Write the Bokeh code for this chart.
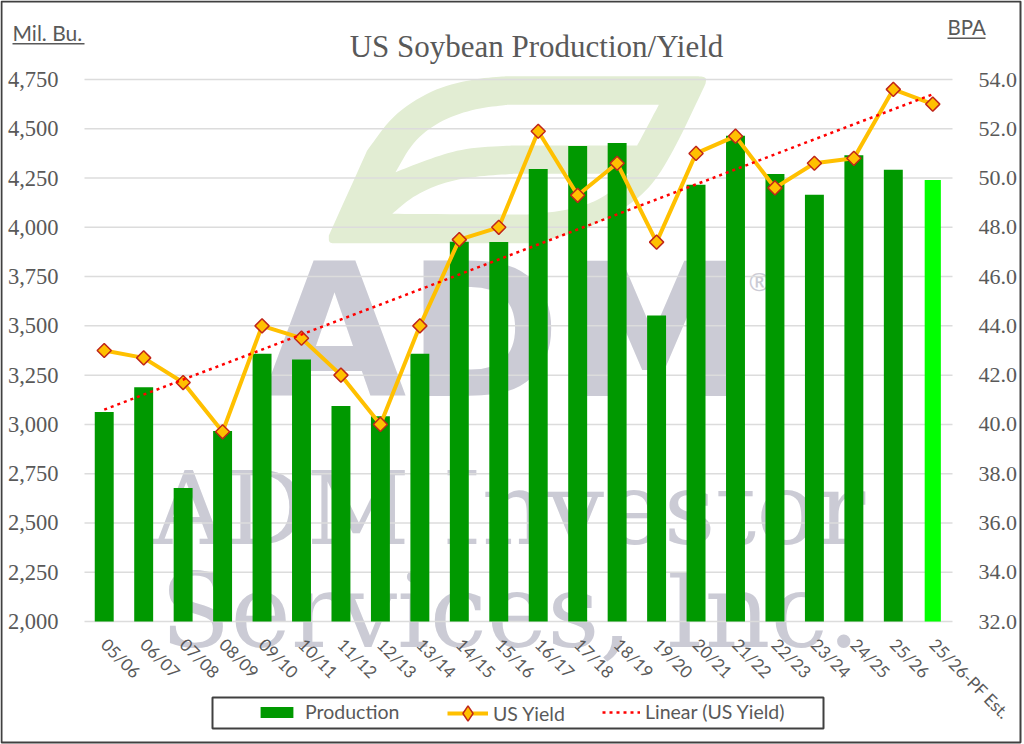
from bokeh.plotting import figure
from bokeh.embed import file_html
from bokeh.resources import INLINE
from bokeh.models import (Range1d, LinearAxis, FixedTicker, NumeralTickFormatter,
                          Legend, LegendItem, Label, PolyAnnotation, BoxAnnotation)
import math

categories = ["05/06","06/07","07/08","08/09","09/10","10/11","11/12","12/13","13/14","14/15","15/16",
              "16/17","17/18","18/19","19/20","20/21","21/22","22/23","23/24","24/25","25/26","25/26-PF Est."]
production = [3063,3188,2677,2967,3359,3329,3094,3042,3358,3927,3926,4296,4412,4428,3552,4216,4465,4270,4165,4366,4292]
production_est = [4240]
us_yield = [43.0,42.7,41.7,39.7,44.0,43.5,42.0,40.0,44.0,47.5,48.0,51.9,49.3,50.6,47.4,51.0,51.7,49.6,50.6,50.8,53.6,53.0]
trend_ends = [40.6,53.4]
left_ticks = [2000,2250,2500,2750,3000,3250,3500,3750,4000,4250,4500,4750]
right_ticks = [32,34,36,38,40,42,44,46,48,50,52,54]

GREY = "#595959"
W, H = 1024, 744
PL, PR, PT, PB = 84, 952, 79, 621   # plot area inside the full-canvas frame
n = len(categories)
xs = list(range(n))
sx = (PR-PL)/n
x0 = -0.5 - PL/sx
def yr_ext(a, b):
    s = (b-a)/(PB-PT)
    return Range1d(a-(H-PB)*s, b+PT*s)

p = figure(width=W, height=H, x_range=Range1d(x0, x0+W/sx), y_range=yr_ext(left_ticks[0], left_ticks[-1]),
           output_backend="svg", toolbar_location=None,
           min_border_left=0, min_border_right=0, min_border_top=0, min_border_bottom=0,
           outline_line_color=None, background_fill_color="white", border_fill_color="white")
p.extra_y_ranges = {"yield": yr_ext(right_ticks[0], right_ticks[-1])}
p.grid.visible = False

def style(ax):
    ax.axis_line_color = None
    ax.major_tick_line_color = None
    ax.minor_tick_line_color = None
    ax.major_label_text_color = GREY

yl = p.yaxis[0]
style(yl)
yl.ticker = FixedTicker(ticks=left_ticks)
yl.formatter = NumeralTickFormatter(format="0,0")
yl.major_label_text_font = "Liberation Serif"
yl.major_label_text_font_size = "22.5px"
yl.major_label_standoff = 20
yl.fixed_location = -0.5
yr = LinearAxis(y_range_name="yield", ticker=FixedTicker(ticks=right_ticks),
                formatter=NumeralTickFormatter(format="0.0"), fixed_location=n-0.5)
style(yr)
yr.major_label_text_font = "Liberation Serif"
yr.major_label_text_font_size = "22px"
yr.major_label_standoff = 20
p.add_layout(yr, "right")
xa = p.xaxis[0]
style(xa)
xa.ticker = FixedTicker(ticks=xs)
xa.major_label_overrides = dict(zip(xs, categories))
xa.major_label_text_font = "Lato"
xa.major_label_text_font_size = "17px"
xa.major_label_orientation = -math.pi/4
xa.major_label_standoff = 14
xa.fixed_location = left_ticks[0]

# Watermark
def chaikin(pts, times=3):
    for _ in range(times):
        out = []
        for i in range(len(pts)):
            a, b = pts[i], pts[(i+1) % len(pts)]
            out.append((0.75*a[0]+0.25*b[0], 0.75*a[1]+0.25*b[1]))
            out.append((0.25*a[0]+0.75*b[0], 0.25*a[1]+0.75*b[1]))
        pts = out
    return pts

def leaf(pts, color):
    pts = chaikin(pts)
    p.add_layout(PolyAnnotation(xs=[300 + a/3 for a, b in pts], ys=[60 + b/3 for a, b in pts],
                                xs_units="canvas", ys_units="canvas", level="image",
                                fill_color=color, fill_alpha=1, line_alpha=0))
leaf([(85,525),(85,525),(200,270),(200,270),(280,160),(400,85),(520,55),(620,47),(620,47),(1190,47),(1190,47),(1218,50),(1215,70),(1215,70),
      (1130,250),(1060,370),(980,440),(850,510),(700,548),(700,548),(110,548),(110,548),(85,548)], "#e2edd3")
leaf([(285,335),(285,335),(285,335),(340,240),(420,180),(520,145),(620,133),(620,133),(1075,133),(1075,133),(1075,133),(1010,255),(1010,255),(1010,255),(640,255),(640,255),(500,262),(400,290)], "white")
leaf([(275,460),(275,460),(275,460),(340,405),(430,365),(530,347),(640,340),(640,340),(985,340),(985,340),(985,340),(930,395),(880,425),(800,450),(680,462),(680,462),(680,462)], "white")

def lab(text, x, y, size, font="DejaVu Serif", style_="normal", color="#cbcbd5", align="left", level="image"):
    p.add_layout(Label(x=x, y=y-0.38*size, x_units="canvas", y_units="canvas", text=text, text_font=font,
                       text_font_size=f"{size}px", text_font_style=style_, text_color=color,
                       text_align=align, text_baseline="alphabetic", level=level))
lab("ADM", 262, 402, 186, "DejaVu Sans", "bold")
lab("®", 748, 290, 26, "Noto Sans")
lab("ADM Investor", 152, 547, 101)
lab("Services, Inc.", 160, 650, 102)

p.segment(x0=[-0.5]*len(left_ticks), x1=[n-0.5]*len(left_ticks), y0=left_ticks, y1=left_ticks,
          line_color="#dcdcdc", line_width=1.5, level="underlay")

bars = p.vbar(x=xs[:-1], top=production, width=0.48, bottom=left_ticks[0], fill_color="#009900", line_color=None)
p.vbar(x=xs[-1:], top=production_est, width=0.41, bottom=left_ticks[0], fill_color="#00ff00", line_color=None)
ln = p.line(xs, us_yield, y_range_name="yield", line_color="#ffc000", line_width=4)
mk = p.scatter(xs, us_yield, y_range_name="yield", marker="square", angle=math.pi/4, size=10,
               fill_color="#ffc000", line_color="#c0261a", line_width=1.5)
key = p.scatter([float("nan")], [float("nan")], y_range_name="yield", marker="diamond", fill_color="#ffc000",
                line_color="#c0261a", line_width=1.5)
tr = p.line([xs[0], xs[-1]], trend_ends, y_range_name="yield", line_color="#ff0000",
            line_width=2.5, line_dash="3 4")

def box(l, r, t, b, fill=None, line=None, w=2):
    p.add_layout(BoxAnnotation(left=l, right=r, top=t, bottom=b, left_units="canvas", right_units="canvas",
                               top_units="canvas", bottom_units="canvas", fill_color=fill,
                               fill_alpha=1 if fill else 0, line_color=line, line_alpha=1, line_width=w, level="annotation"))
box(212, 823, 697, 728, fill="white", line="#404040", w=2)

def legend(label, rends, left, bottom, gh):
    p.add_layout(Legend(items=[LegendItem(label=label, renderers=rends)], location=(left, bottom),
                        glyph_width=41 if left < 600 else 38, glyph_height=gh, padding=0, margin=0,
                        label_text_font="Lato", label_text_font_size="19.5px", label_text_color=GREY,
                        label_standoff=5 if left > 400 else 8, border_line_color=None, background_fill_alpha=0), "center")
legend("Production", [bars], 256, 21, 14)
legend("US Yield", [ln, key], 447, 12, 38)
legend("Linear (US Yield)", [tr], 602, 21, 14)

lab("US Soybean Production/Yield", 536, 58, 31, "Liberation Serif", color=GREY, align="center", level="annotation")
lab("Mil. Bu.", 12, 40, 21, "Lato", color=GREY, level="annotation")
lab("BPA", 947, 34, 20.5, "Lato", color=GREY, level="annotation")
def rule(l, r, t, b):
    p.add_layout(BoxAnnotation(left=l, right=r, top=t, bottom=b, left_units="canvas", right_units="canvas",
                               top_units="canvas", bottom_units="canvas", fill_color=GREY, fill_alpha=1,
                               line_color=None, level="annotation"))
rule(12, 84, 42.5, 44)
rule(947, 985, 37, 38.5)
box(1, 1020, 1, 742, line="#404040", w=2)

open("out.html", "w").write(file_html(p, INLINE))
